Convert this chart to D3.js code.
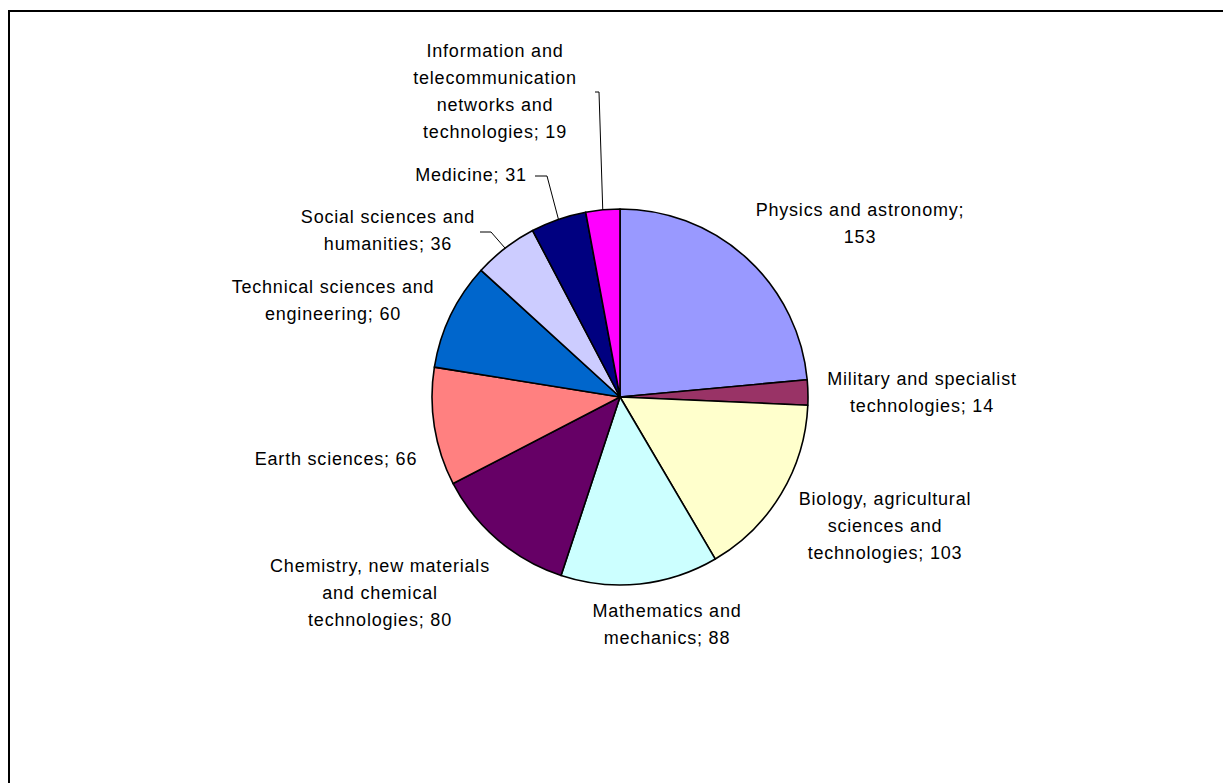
<!DOCTYPE html>
<html>
<head>
<meta charset="utf-8">
<script src="https://cdn.jsdelivr.net/npm/d3@7"></script>
<style>
  html, body { margin: 0; padding: 0; background: #fff; overflow: hidden; }
  svg { display: block; }
  .lbl { font-family: "Liberation Sans", Arial, sans-serif; font-size: 18px; fill: #000; letter-spacing: 0.8px; }
</style>
</head>
<body>
<svg id="chart" width="1223" height="783"></svg>
<script>
// Scientific fields and number of items per field
const categories = [
  "Physics and astronomy",
  "Military and specialist technologies",
  "Biology, agricultural sciences and technologies",
  "Mathematics and mechanics",
  "Chemistry, new materials and chemical technologies",
  "Earth sciences",
  "Technical sciences and engineering",
  "Social sciences and humanities",
  "Medicine",
  "Information and telecommunication networks and technologies"
];
const values = [153, 14, 103, 88, 80, 66, 60, 36, 31, 19];
const colors = ["#9999FF", "#993366", "#FFFFCC", "#CCFFFF", "#660066",
                "#FF8080", "#0066CC", "#CCCCFF", "#000080", "#FF00FF"];

// Label line breaks (as in the chart's data labels)
const labelLines = [
  ["Physics and astronomy;", "153"],
  ["Military and specialist", "technologies; 14"],
  ["Biology, agricultural", "sciences and", "technologies; 103"],
  ["Mathematics and", "mechanics; 88"],
  ["Chemistry, new materials", "and chemical", "technologies; 80"],
  ["Earth sciences; 66"],
  ["Technical sciences and", "engineering; 60"],
  ["Social sciences and", "humanities; 36"],
  ["Medicine; 31"],
  ["Information and", "telecommunication", "networks and", "technologies; 19"]
];

// Layout: label anchor (centre x, first baseline y) and optional leader start
const labelLayout = [
  { x: 860, y: 216 },
  { x: 922, y: 385 },
  { x: 885, y: 505 },
  { x: 667, y: 617 },
  { x: 380, y: 572 },
  { x: 336, y: 465 },
  { x: 333, y: 293 },
  { x: 388, y: 223, leader: [[480, 232], [491, 232]] },
  { x: 471, y: 181, leader: [[535, 176], [547, 176]] },
  { x: 495, y: 57, leader: [[595, 92], [599, 92]] }
];

const W = 1223, H = 783;
const cx = 620, cy = 397, R = 188;
const lineH = 27;

const svg = d3.select("#chart");

// Chart area frame
svg.append("rect")
  .attr("x", 9).attr("y", 11)
  .attr("width", W + 20).attr("height", H + 20)
  .attr("fill", "#fff").attr("stroke", "#000").attr("stroke-width", 2);

const data = categories.map((c, i) => ({ name: c, value: values[i], color: colors[i], i }));

const pie = d3.pie().value(d => d.value).sort(null).startAngle(0).endAngle(2 * Math.PI);
const arcs = pie(data);
const arc = d3.arc().innerRadius(0).outerRadius(R);

const g = svg.append("g").attr("transform", `translate(${cx},${cy})`);
g.selectAll("path.slice")
  .data(arcs)
  .join("path")
  .attr("class", "slice")
  .attr("d", arc)
  .attr("fill", d => d.data.color)
  .attr("stroke", "#000")
  .attr("stroke-width", 1.6)
  .attr("stroke-linejoin", "round");

// Leader lines from label to slice edge midpoint
arcs.forEach((a, i) => {
  const lay = labelLayout[i];
  if (!lay.leader) return;
  const mid = (a.startAngle + a.endAngle) / 2;
  const end = [cx + R * Math.sin(mid), cy - R * Math.cos(mid)];
  const pts = lay.leader.concat([end]);
  svg.append("path")
    .attr("d", d3.line()(pts))
    .attr("fill", "none")
    .attr("stroke", "#000")
    .attr("stroke-width", 1);
});

// Data labels
arcs.forEach((a, i) => {
  const lay = labelLayout[i];
  const t = svg.append("text")
    .attr("class", "lbl")
    .attr("text-anchor", "middle");
  labelLines[i].forEach((ln, k) => {
    t.append("tspan")
      .attr("x", lay.x)
      .attr("y", lay.y + k * lineH)
      .text(ln);
  });
});
</script>
</body>
</html>
